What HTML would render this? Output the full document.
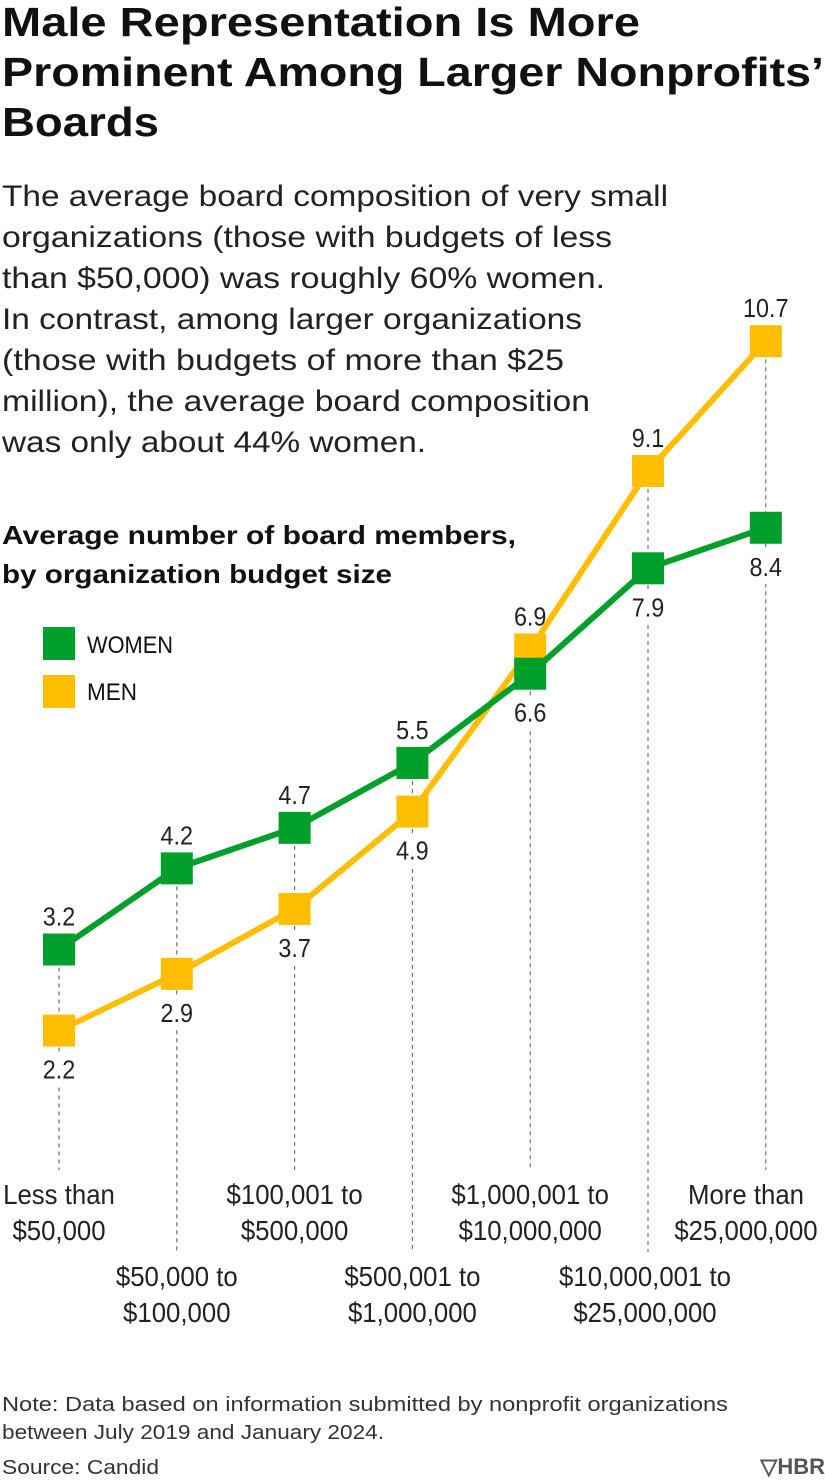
<!DOCTYPE html>
<html><head><meta charset="utf-8"><style>
body{margin:0;background:#fff;}
svg{display:block;font-family:"Liberation Sans",sans-serif;}
</style></head><body>
<svg id="chart" width="825" height="1483" viewBox="0 0 825 1483">
<g font-weight="bold" font-size="41" fill="#111">
<text x="2" y="36" textLength="638" lengthAdjust="spacingAndGlyphs">Male Representation Is More</text>
<text x="2" y="86" textLength="822" lengthAdjust="spacingAndGlyphs">Prominent Among Larger Nonprofits’</text>
<text x="2" y="136" textLength="157" lengthAdjust="spacingAndGlyphs">Boards</text>
</g>
<g font-size="30" fill="#222">
<text x="2" y="206" textLength="666" lengthAdjust="spacingAndGlyphs">The average board composition of very small</text>
<text x="2" y="247" textLength="610" lengthAdjust="spacingAndGlyphs">organizations (those with budgets of less</text>
<text x="2" y="288" textLength="603" lengthAdjust="spacingAndGlyphs">than $50,000) was roughly 60% women.</text>
<text x="2" y="329" textLength="580" lengthAdjust="spacingAndGlyphs">In contrast, among larger organizations</text>
<text x="2" y="370" textLength="562" lengthAdjust="spacingAndGlyphs">(those with budgets of more than $25</text>
<text x="2" y="411" textLength="588" lengthAdjust="spacingAndGlyphs">million), the average board composition</text>
<text x="2" y="452" textLength="424" lengthAdjust="spacingAndGlyphs">was only about 44% women.</text>
</g>
<g font-weight="bold" font-size="26" fill="#111">
<text x="2" y="544" textLength="514" lengthAdjust="spacingAndGlyphs">Average number of board members,</text>
<text x="2" y="583" textLength="390" lengthAdjust="spacingAndGlyphs">by organization budget size</text>
</g>
<g font-size="24" fill="#111">
<rect x="43" y="627" width="32" height="33" fill="#009e2a"/>
<text x="87" y="653" textLength="86" lengthAdjust="spacingAndGlyphs">WOMEN</text>
<rect x="43" y="675" width="32" height="33" fill="#ffbe00"/>
<text x="87" y="700" textLength="50" lengthAdjust="spacingAndGlyphs">MEN</text>
</g>
<g id="plot"></g>
<g font-size="20" fill="#333">
<text x="2" y="1411" textLength="726" lengthAdjust="spacingAndGlyphs">Note: Data based on information submitted by nonprofit organizations</text>
<text x="2" y="1439" textLength="382" lengthAdjust="spacingAndGlyphs">between July 2019 and January 2024.</text>
<text x="2" y="1474" textLength="157" lengthAdjust="spacingAndGlyphs">Source: Candid</text>
<text x="825" y="1474" text-anchor="end" font-weight="bold" font-size="22" fill="#555">▽HBR</text>
</g>
</svg>
<script>
const categories1 = ["Less than","$50,000 to","$100,001 to","$500,001 to","$1,000,001 to","$10,000,001 to","More than"];
const categories2 = ["$50,000","$100,000","$500,000","$1,000,000","$10,000,000","$25,000,000","$25,000,000"];
const women = [3.2,4.2,4.7,5.5,6.6,7.9,8.4];
const men = [2.2,2.9,3.7,4.9,6.9,9.1,10.7];
const NS="http://www.w3.org/2000/svg";
const g=document.getElementById('plot');
function x(i){return 59+i*117.8;}
function y(v){return 1209-v*81.1;}
function mk(tag,attrs,parent){const e=document.createElementNS(NS,tag);for(const k in attrs)e.setAttribute(k,attrs[k]);(parent||g).appendChild(e);return e;}
categories1.forEach((c,i)=>{
  const hi=Math.max(women[i],men[i]);
  const labTop = i%2===0?1170:1252;
  const l=mk('line',{x1:x(i),x2:x(i),y1:y(hi)-22,y2:labTop,stroke:'#555','stroke-width':1,'stroke-dasharray':'4,4'});
  
  
});
function condense(t,f){const w=t.getComputedTextLength();t.setAttribute('textLength',(w*f).toFixed(1));t.setAttribute('lengthAdjust','spacingAndGlyphs');}
function valLabel(v,i,above,name){
  const yy = above? y(v)-24 : y(v)+48;
  const r=mk('rect',{x:x(i)-26,y:yy-26,width:52,height:34,fill:'#fff'});
  
  
  const t=mk('text',{x:x(i),y:yy,'text-anchor':'middle','font-size':26,fill:'#222'});
  t.textContent=v.toFixed(1);
  
  
  condense(t,0.9);
}
categories1.forEach((c,i)=>{
  const wAbove = women[i]>=men[i];
  valLabel(women[i],i,wAbove,'women-value-'+i);
  valLabel(men[i],i,!wAbove,'men-value-'+i);
});
function series(vals,color,name){
  const p=mk('polyline',{points:vals.map((v,i)=>x(i)+','+y(v)).join(' '),fill:'none',stroke:color,'stroke-width':6,'stroke-linejoin':'round'});
  
  
  vals.forEach((v,i)=>{
    const r=mk('rect',{x:x(i)-16,y:y(v)-16,width:32,height:32,fill:color});
    
    
  });
}
series(men,'#ffbe00','men');
series(women,'#009e2a','women');
categories1.forEach((c,i)=>{
  const base = i%2===0?1204:1286;
  let cx = x(i);
  if(i===categories1.length-1) cx = 746;
  if(i===5) cx = 645;
  const t1=mk('text',{x:cx,y:base,'text-anchor':'middle','font-size':28,fill:'#222'});
  t1.textContent=c;
  
  
  condense(t1,0.92);
  const t2=mk('text',{x:cx,y:base+36,'text-anchor':'middle','font-size':28,fill:'#222'});
  t2.textContent=categories2[i];
  
  
  condense(t2,0.92);
});
</script>
</body></html>
